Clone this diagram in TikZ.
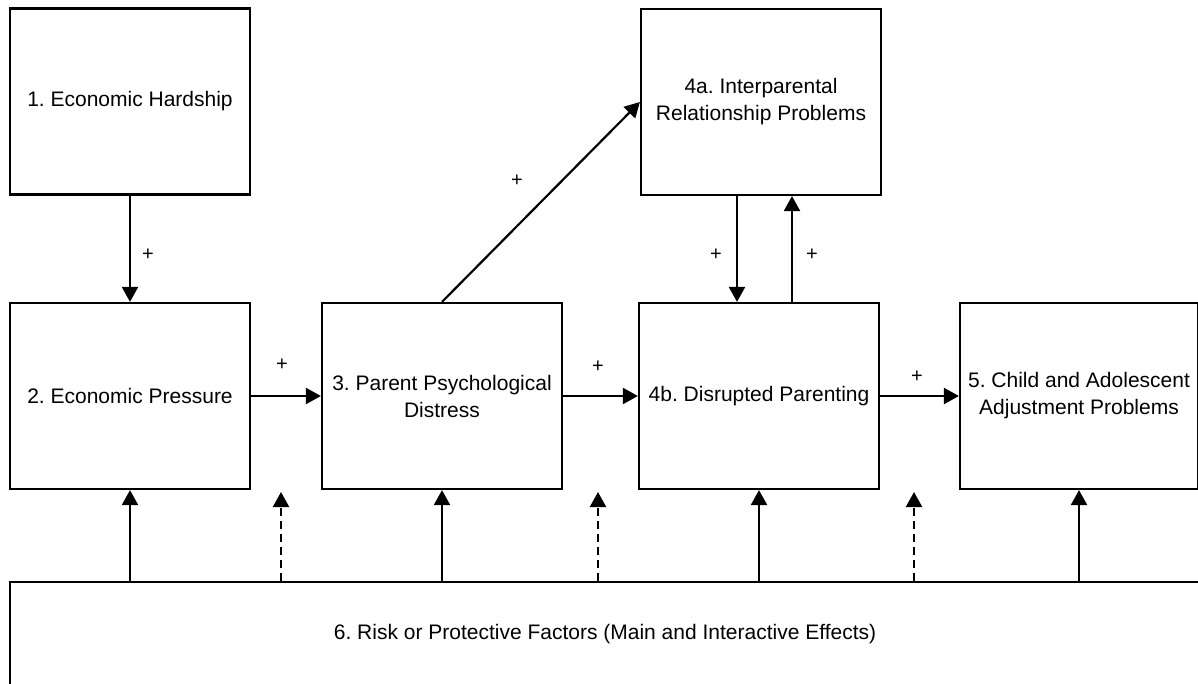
\documentclass[tikz,border=0pt]{standalone}
\usepackage{fontspec}
\setmainfont{Liberation Sans}
\usetikzlibrary{arrows.meta}
\frenchspacing
\tikzset{
  box/.style={draw,line width=2.2pt,minimum width=240pt,minimum height=186pt,
    align=center,inner sep=0pt,font=\fontsize{21}{27}\selectfont},
  link/.style={line width=2.2pt,-{Triangle[length=15pt,width=16pt]}},
  plus/.style={font=\fontsize{20}{20}\selectfont}
}
\begin{document}
\begin{tikzpicture}[x=1pt,y=-1pt]
  \clip (0,0) rectangle (1198,684);

  \node[box] (hard) at (130,101.5) {1. Economic Hardship};
  \node[box] (press) at (130,396) {2. Economic Pressure};
  \node[box] (distress) at (442,396) {3. Parent Psychological\\Distress};
  \node[box] (interp) at (761,102) {4a. Interparental\\Relationship Problems};
  \node[box] (disrupt) at (759,396) {4b. Disrupted Parenting};
  \node[box,minimum width=238pt] (child) at (1079,396) {5. Child and Adolescent\\Adjustment Problems};
  \node[box,minimum width=1190pt,minimum height=104pt] (risk) at (605,634)
    {6. Risk or Protective Factors (Main and Interactive Effects)};

  \draw[link] (hard.south) -- (press.north);
  \node[plus] (p1) at (148,255) {+};
  \draw[link] (press.east) -- (distress.west);
  \node[plus] (p2) at (282,365) {+};
  \draw[link] (distress.east) -- (disrupt.west);
  \node[plus] (p3) at (598,367) {+};
  \draw[link] (disrupt.east) -- (child.west);
  \node[plus] (p4) at (917,377) {+};

  \draw[link] (distress.north) -- (interp.west);
  \node[plus] (p5) at (517,181) {+};
  \draw[link] ([xshift=-24pt]interp.south) -- ([xshift=-22pt]disrupt.north);
  \node[plus] (p6) at (716,255) {+};
  \draw[link] ([xshift=33pt]disrupt.north) -- ([xshift=31pt]interp.south);
  \node[plus] (p7) at (812,255) {+};

  % moderators
  \foreach \b in {press,distress,disrupt,child}
    \draw[link] (risk.north -| \b) -- (\b.south);
  \foreach \x [count=\i] in {281,598,914}
    \coordinate (gap\i) at (\x,492);
  \foreach \i in {1,2,3}
    \draw[link,dash pattern=on 8pt off 5pt] (risk.north -| gap\i) -- (gap\i);
\end{tikzpicture}
\end{document}
